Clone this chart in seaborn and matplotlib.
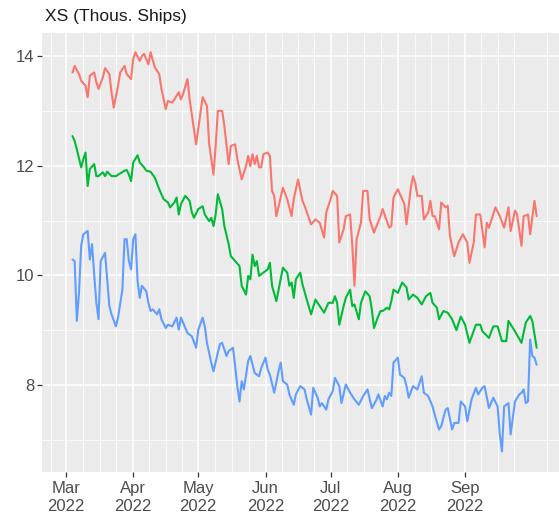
import pandas as pd
import matplotlib.pyplot as plt
import seaborn as sns

# days counted from 1 March 2022
start = pd.Timestamp("2022-03-01")

red_day = [3, 4, 6, 7, 9, 10, 11, 13, 14, 15, 17, 18, 20, 21, 22, 24, 25, 27, 28, 30,
           31, 32, 34, 35, 36, 38, 39, 41, 43, 44, 46, 47, 49, 50, 52, 53, 54, 56, 57, 59,
           60, 62, 63, 65, 66, 68, 69, 70, 72, 73, 75, 76, 78, 79, 81, 83, 84, 85, 86, 87,
           88, 89, 90, 91, 93, 94, 95, 96, 97, 100, 102, 104, 105, 107, 109, 110, 113, 115, 117, 119,
           120, 122, 123, 125, 126, 128, 129, 131, 132, 133, 134, 136, 137, 139, 140, 142, 145, 146, 149, 150,
           151, 153, 155, 156, 157, 159, 160, 161, 162, 164, 165, 167, 168, 169, 170, 172, 173, 175, 176, 177,
           179, 181, 183, 185, 186, 188, 189, 191, 193, 194, 195, 198, 200, 202, 204, 205, 207, 208, 210, 211,
           213, 214, 216, 217]
red_val = [13.70, 13.82, 13.67, 13.55, 13.46, 13.25, 13.64, 13.70, 13.52, 13.40, 13.61, 13.78, 13.67, 13.34, 13.06, 13.46, 13.70, 13.82, 13.67, 13.58,
           13.95, 14.07, 13.91, 14.00, 14.04, 13.85, 14.07, 13.79, 13.67, 13.40, 13.03, 13.18, 13.15, 13.21, 13.34, 13.21, 13.31, 13.58, 13.21, 12.67,
           12.39, 12.97, 13.25, 13.09, 12.40, 11.84, 12.36, 13.00, 13.00, 12.73, 12.03, 12.36, 12.39, 12.12, 11.75, 11.99, 12.18, 11.99, 12.21, 12.03,
           12.18, 11.97, 11.97, 12.21, 12.24, 12.18, 11.54, 11.45, 11.08, 11.60, 11.39, 11.08, 11.39, 11.75, 11.36, 11.27, 10.93, 11.02, 10.96, 10.69,
           11.15, 11.39, 11.54, 11.45, 10.60, 10.84, 11.08, 11.11, 10.54, 9.81, 10.66, 10.96, 11.54, 11.54, 11.02, 10.78, 11.08, 11.21, 10.87, 10.90,
           11.42, 11.57, 11.39, 11.30, 10.93, 11.60, 11.81, 11.69, 11.45, 11.45, 11.02, 11.15, 11.36, 11.08, 11.08, 10.84, 11.33, 11.24, 11.27, 10.72,
           10.35, 10.60, 10.75, 10.60, 10.23, 10.60, 11.11, 11.11, 10.51, 10.96, 10.87, 11.24, 11.08, 10.87, 11.24, 10.81, 11.18, 11.11, 10.54, 11.08,
           11.11, 10.75, 11.36, 11.08]

green_day = [3, 4, 5, 7, 8, 9, 10, 11, 13, 14, 15, 17, 18, 19, 21, 23, 25, 27, 28, 29,
             30, 31, 33, 34, 36, 37, 39, 41, 43, 45, 47, 48, 50, 51, 52, 53, 55, 57, 58, 59,
             61, 63, 64, 66, 67, 68, 69, 70, 72, 73, 75, 76, 78, 80, 81, 83, 84, 85, 86, 87,
             88, 89, 91, 93, 94, 95, 97, 99, 100, 102, 103, 104, 105, 106, 108, 109, 111, 113, 115, 117,
             119, 121, 123, 124, 125, 126, 128, 129, 131, 132, 133, 135, 136, 138, 140, 141, 142, 144, 145, 146,
             148, 149, 150, 151, 153, 155, 157, 158, 160, 162, 164, 166, 168, 169, 171, 172, 174, 176, 178, 180,
             182, 184, 186, 189, 191, 192, 195, 197, 199, 201, 203, 204, 207, 210, 212, 214, 215, 217]
green_val = [12.54, 12.45, 12.30, 11.97, 12.12, 12.24, 11.63, 11.94, 12.03, 11.81, 11.81, 11.88, 11.81, 11.89, 11.81, 11.81, 11.86, 11.91, 11.92, 11.84,
             11.72, 12.06, 12.19, 12.06, 11.97, 11.91, 11.89, 11.78, 11.57, 11.39, 11.33, 11.24, 11.33, 11.42, 11.11, 11.30, 11.45, 11.36, 11.15, 11.05,
             11.21, 11.26, 11.11, 10.99, 11.05, 10.90, 11.11, 11.48, 11.21, 10.90, 10.57, 10.35, 10.26, 10.17, 9.81, 9.65, 9.99, 9.93, 10.38, 10.17,
             10.26, 9.99, 10.05, 10.11, 10.23, 9.81, 9.53, 9.93, 10.14, 10.05, 9.81, 9.87, 9.59, 9.93, 10.05, 9.84, 9.56, 9.29, 9.56, 9.44,
             9.32, 9.50, 9.50, 9.62, 9.50, 9.10, 9.44, 9.59, 9.74, 9.44, 9.47, 9.20, 9.50, 9.71, 9.62, 9.38, 9.04, 9.26, 9.35, 9.35,
             9.41, 9.38, 9.53, 9.74, 9.68, 9.87, 9.78, 9.56, 9.65, 9.59, 9.47, 9.62, 9.68, 9.50, 9.41, 9.20, 9.35, 9.32, 9.20, 9.00,
             9.25, 9.10, 8.77, 9.10, 9.10, 8.98, 8.86, 9.07, 9.07, 8.80, 8.80, 9.17, 8.98, 8.77, 9.14, 9.26, 9.17, 8.68]

blue_day = [3, 4, 5, 6, 7, 8, 10, 11, 12, 13, 14, 15, 16, 18, 20, 21, 23, 24, 26, 27,
            28, 29, 30, 31, 32, 33, 34, 35, 37, 38, 39, 40, 42, 43, 44, 46, 47, 49, 51, 52,
            53, 55, 56, 58, 60, 61, 63, 64, 65, 67, 68, 70, 71, 72, 74, 75, 77, 78, 79, 80,
            81, 82, 84, 85, 87, 89, 90, 92, 93, 94, 96, 98, 99, 100, 102, 103, 105, 106, 108, 110,
            111, 113, 114, 116, 117, 118, 120, 121, 123, 124, 126, 127, 129, 131, 133, 135, 137, 139, 141, 143,
            144, 146, 147, 148, 149, 150, 151, 153, 154, 156, 157, 158, 160, 162, 164, 165, 167, 169, 170, 172,
            173, 175, 176, 178, 179, 181, 182, 184, 185, 187, 189, 190, 192, 193, 195, 197, 199, 200, 201, 202,
            204, 205, 207, 209, 210, 211, 212, 213, 214, 215, 216, 217]
blue_val = [10.29, 10.26, 9.17, 9.68, 10.54, 10.75, 10.81, 10.29, 10.57, 10.02, 9.50, 9.20, 10.26, 10.41, 9.44, 9.29, 9.07, 9.23, 9.74, 10.66,
            10.66, 10.26, 10.11, 10.66, 10.75, 9.90, 9.59, 9.81, 9.71, 9.50, 9.35, 9.38, 9.29, 9.38, 9.20, 9.04, 9.10, 9.07, 9.23, 9.01,
            9.23, 9.04, 8.95, 8.89, 8.68, 9.01, 9.23, 9.07, 8.77, 8.40, 8.25, 8.59, 8.75, 8.77, 8.53, 8.62, 8.68, 8.34, 7.98, 7.70,
            8.07, 7.92, 8.44, 8.53, 8.22, 8.16, 8.31, 8.50, 8.28, 8.19, 7.86, 8.25, 8.41, 8.07, 8.01, 7.83, 7.64, 7.83, 7.98, 7.92,
            7.74, 7.46, 7.95, 7.77, 7.61, 7.67, 7.55, 7.74, 7.89, 8.13, 7.98, 7.67, 8.01, 7.86, 7.74, 7.64, 7.80, 7.92, 7.58, 7.72,
            7.83, 7.61, 7.80, 7.74, 7.86, 7.80, 8.41, 8.50, 8.19, 8.13, 7.98, 7.77, 7.98, 7.92, 8.16, 7.86, 7.80, 7.61, 7.46, 7.19,
            7.25, 7.55, 7.58, 7.19, 7.31, 7.31, 7.70, 7.61, 7.34, 7.74, 7.95, 7.83, 7.95, 7.98, 7.58, 7.77, 7.61, 7.10, 6.79, 7.61,
            7.67, 7.10, 7.70, 7.83, 7.86, 7.92, 7.67, 7.70, 8.83, 8.53, 8.50, 8.37]

series_names = ["Series 1", "Series 2", "Series 3"]
series_colors = ["#F8766D", "#00BA38", "#619CFF"]

frames = []
for name, days, vals in zip(series_names, [red_day, green_day, blue_day], [red_val, green_val, blue_val]):
    frames.append(pd.DataFrame({
        "date": start + pd.to_timedelta(days, unit="D"),
        "value": vals,
        "series": name,
    }))
df = pd.concat(frames, ignore_index=True)

sns.set_theme(style="darkgrid", rc={"axes.facecolor": "#EBEBEB", "grid.color": "white"})
plt.rcParams["font.family"] = ["Liberation Sans", "DejaVu Sans"]

fig = plt.figure(figsize=(5.59, 5.20), dpi=100)
ax = fig.add_axes([42 / 559, 1 - 471.7 / 520, 1 - 42 / 559, (471.7 - 33) / 520])

sns.lineplot(data=df, x="date", y="value", hue="series", hue_order=series_names,
             palette=series_colors, estimator=None, linewidth=1.5, legend=False, ax=ax)

# month breaks, minor grid splits each month in four
months = pd.date_range("2022-02-01", "2022-11-01", freq="MS")
minor = []
for a, b in zip(months[:-1], months[1:]):
    for q in (0.25, 0.5, 0.75):
        minor.append(a + (b - a) * q)
major = pd.date_range("2022-03-01", "2022-09-01", freq="MS")

ax.set_xticks(major)
ax.set_xticklabels([d.strftime("%b\n%Y") for d in major], linespacing=1.2)
ax.set_xticks(minor, minor=True)
ax.set_yticks([8, 10, 12, 14])
ax.set_yticks([7, 9, 11, 13], minor=True)

ax.set_xlim(start - pd.Timedelta(days=11.06), start + pd.Timedelta(days=227.3))
ax.set_ylim(6.42, 14.42)

ax.grid(which="major", color="white", linewidth=1.1)
ax.grid(which="minor", color="white", linewidth=0.55)
ax.set_xlabel("")
ax.set_ylabel("")
for s in ax.spines.values():
    s.set_visible(False)

ax.tick_params(which="major", bottom=True, left=True, length=3.5, width=0.9, color="#333333",
               labelsize=12, labelcolor="#4D4D4D", pad=2)
ax.tick_params(axis="x", which="major", pad=3.5)
ax.tick_params(which="minor", bottom=False, left=False, length=0)

fig.text(45 / 559, 1 - 16 / 520, "XS (Thous. Ships)", ha="left", va="center", fontsize=12.5, color="#1A1A1A")

fig.savefig("out.png", dpi=100)
